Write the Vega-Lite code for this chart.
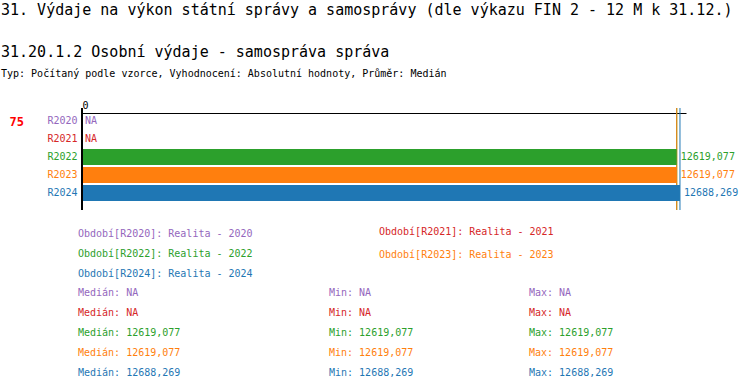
{
  "$schema": "https://vega.github.io/schema/vega-lite/v6.json",
  "background": "white",
  "padding": {"left": 1, "top": 3, "right": 0, "bottom": 0},
  "datasets": {
    "periods": [
      {"period": "R2020", "name": "Realita - 2020", "value": null, "label": "NA"},
      {"period": "R2021", "name": "Realita - 2021", "value": null, "label": "NA"},
      {"period": "R2022", "name": "Realita - 2022", "value": 12619.077, "label": "12619,077"},
      {"period": "R2023", "name": "Realita - 2023", "value": 12619.077, "label": "12619,077"},
      {"period": "R2024", "name": "Realita - 2024", "value": 12688.269, "label": "12688,269"}
    ]
  },
  "title": {
    "text": "31. Výdaje na výkon státní správy a samosprávy (dle výkazu FIN 2 - 12 M k 31.12.)",
    "anchor": "start",
    "frame": "group",
    "font": "DejaVu Sans Mono",
    "fontSize": 15,
    "fontWeight": "normal",
    "color": "black",
    "dx": -81,
    "offset": 27
  },
  "bounds": "full",
  "spacing": 1,
  "vconcat": [
    {
      "width": 604,
      "height": 102,
      "title": {
        "text": "31.20.1.2 Osobní výdaje - samospráva správa",
        "subtitle": "Typ: Počítaný podle vzorce, Vyhodnocení: Absolutní hodnoty, Průměr: Medián",
        "anchor": "start",
        "frame": "group",
        "font": "DejaVu Sans Mono",
        "fontSize": 15,
        "fontWeight": "normal",
        "color": "black",
        "subtitleFont": "DejaVu Sans Mono",
        "subtitleFontSize": 10,
        "subtitleColor": "black",
        "subtitlePadding": 9,
        "dx": -81,
        "offset": 21
      },
      "data": {"name": "periods"},
      "encoding": {
        "color": {
          "field": "period",
          "type": "nominal",
          "scale": {
            "domain": ["R2020", "R2021", "R2022", "R2023", "R2024"],
            "range": ["#9467bd", "#d62728", "#2ca02c", "#ff7f0e", "#1f77b4"]
          },
          "legend": null
        }
      },
      "layer": [
        {
          "transform": [{"filter": "datum.value != null"}],
          "mark": {"type": "rule", "strokeWidth": 1},
          "encoding": {
            "x": {
              "field": "value",
              "type": "quantitative",
              "scale": {"domain": [0, 12816], "nice": false, "zero": true},
              "axis": {
                "orient": "top",
                "values": [0],
                "title": null,
                "grid": false,
                "ticks": false,
                "domain": true,
                "domainColor": "black",
                "domainWidth": 1,
                "offset": -5,
                "labelFont": "DejaVu Sans Mono",
                "labelFontSize": 10,
                "labelColor": "black",
                "labelPadding": 3
              }
            }
          }
        },
        {
          "transform": [{"filter": "datum.value != null"}],
          "mark": {"type": "bar"},
          "encoding": {
            "x": {"field": "value", "type": "quantitative"},
            "y": {
              "field": "period",
              "type": "nominal",
              "sort": ["R2020", "R2021", "R2022", "R2023", "R2024"],
              "scale": {"paddingInner": 0.1111, "paddingOuter": 0.3889, "align": 0.357},
              "axis": {
                "title": "75",
                "titleAngle": 0,
                "titleColor": "#ff0000",
                "titleFont": "DejaVu Sans Mono",
                "titleFontSize": 12,
                "titleFontWeight": "bold",
                "titleAlign": "left",
                "titleBaseline": "middle",
                "titleX": -73,
                "titleY": 13,
                "ticks": false,
                "domain": false,
                "grid": false,
                "labelFont": "DejaVu Sans Mono",
                "labelFontSize": 10,
                "labelPadding": 5,
                "labelColor": {"expr": "datum.value == 'R2020' ? '#9467bd' : datum.value == 'R2021' ? '#d62728' : datum.value == 'R2022' ? '#2ca02c' : datum.value == 'R2023' ? '#ff7f0e' : '#1f77b4'"}
              }
            }
          }
        },
        {
          "mark": {"type": "rule", "strokeWidth": 2},
          "encoding": {
            "x": {"datum": 0, "type": "quantitative"},
            "color": {"value": "black"}
          }
        },
        {
          "transform": [{"filter": "datum.value != null"}],
          "mark": {"type": "text", "align": "left", "baseline": "middle", "dx": 4, "font": "DejaVu Sans Mono", "fontSize": 10},
          "encoding": {
            "x": {"field": "value", "type": "quantitative"},
            "y": {"field": "period", "type": "nominal", "sort": ["R2020", "R2021", "R2022", "R2023", "R2024"], "axis": {"title": "75"}},
            "text": {"field": "label"}
          }
        },
        {
          "transform": [{"filter": "datum.value == null"}],
          "mark": {"type": "text", "align": "left", "baseline": "middle", "dx": 3, "font": "DejaVu Sans Mono", "fontSize": 10},
          "encoding": {
            "x": {"datum": 0, "type": "quantitative"},
            "y": {"field": "period", "type": "nominal", "sort": ["R2020", "R2021", "R2022", "R2023", "R2024"], "axis": {"title": "75"}},
            "text": {"field": "label"}
          }
        }
      ]
    },
    {
      "bounds": "full",
      "spacing": 0,
      "hconcat": [
        {
          "width": 297,
          "height": 70,
          "data": {"name": "periods"},
          "transform": [
            {"filter": {"field": "period", "oneOf": ["R2020", "R2022", "R2024"]}},
            {"calculate": "'Období[' + datum.period + ']: ' + datum.name", "as": "txt"}
          ],
          "mark": {"type": "text", "align": "left", "baseline": "middle", "dx": -4, "font": "DejaVu Sans Mono", "fontSize": 10},
          "encoding": {
            "x": {"datum": 0, "type": "quantitative", "scale": {"domain": [0, 1]}, "axis": null},
            "y": {"field": "period", "type": "nominal", "sort": ["R2020", "R2022", "R2024"], "scale": {"type": "point", "padding": 0.75, "align": 0.72}, "axis": null},
            "text": {"field": "txt"},
            "color": {"field": "period", "type": "nominal", "legend": null}
          }
        },
        {
          "width": 200,
          "height": 70,
          "data": {"name": "periods"},
          "transform": [
            {"filter": {"field": "period", "oneOf": ["R2021", "R2023"]}},
            {"calculate": "'Období[' + datum.period + ']: ' + datum.name", "as": "txt"}
          ],
          "mark": {"type": "text", "align": "left", "baseline": "middle", "dx": -4, "font": "DejaVu Sans Mono", "fontSize": 10},
          "encoding": {
            "x": {"datum": 0, "type": "quantitative", "scale": {"domain": [0, 1]}, "axis": null},
            "y": {"field": "period", "type": "nominal", "sort": ["R2021", "R2023"], "scale": {"type": "point", "padding": 1.25, "align": 0.43}, "axis": null},
            "text": {"field": "txt"},
            "color": {"field": "period", "type": "nominal", "legend": null}
          }
        }
      ]
    },
    {
      "bounds": "full",
      "spacing": 0,
      "hconcat": [
        {
          "width": 247,
          "height": 100,
          "data": {"name": "periods"},
          "transform": [{"calculate": "'Medián: ' + datum.label", "as": "txt"}],
          "mark": {"type": "text", "align": "left", "baseline": "middle", "dx": -4, "font": "DejaVu Sans Mono", "fontSize": 10},
          "encoding": {
            "x": {"datum": 0, "type": "quantitative", "scale": {"domain": [0, 1]}, "axis": null},
            "y": {"field": "period", "type": "nominal", "sort": ["R2020", "R2021", "R2022", "R2023", "R2024"], "scale": {"type": "point", "padding": 0.5}, "axis": null},
            "text": {"field": "txt"},
            "color": {"field": "period", "type": "nominal", "legend": null}
          }
        },
        {
          "width": 196,
          "height": 100,
          "data": {"name": "periods"},
          "transform": [{"calculate": "'Min: ' + datum.label", "as": "txt"}],
          "mark": {"type": "text", "align": "left", "baseline": "middle", "dx": -4, "font": "DejaVu Sans Mono", "fontSize": 10},
          "encoding": {
            "x": {"datum": 0, "type": "quantitative", "scale": {"domain": [0, 1]}, "axis": null},
            "y": {"field": "period", "type": "nominal", "sort": ["R2020", "R2021", "R2022", "R2023", "R2024"], "scale": {"type": "point", "padding": 0.5}, "axis": null},
            "text": {"field": "txt"},
            "color": {"field": "period", "type": "nominal", "legend": null}
          }
        },
        {
          "width": 150,
          "height": 100,
          "data": {"name": "periods"},
          "transform": [{"calculate": "'Max: ' + datum.label", "as": "txt"}],
          "mark": {"type": "text", "align": "left", "baseline": "middle", "dx": -4, "font": "DejaVu Sans Mono", "fontSize": 10},
          "encoding": {
            "x": {"datum": 0, "type": "quantitative", "scale": {"domain": [0, 1]}, "axis": null},
            "y": {"field": "period", "type": "nominal", "sort": ["R2020", "R2021", "R2022", "R2023", "R2024"], "scale": {"type": "point", "padding": 0.5}, "axis": null},
            "text": {"field": "txt"},
            "color": {"field": "period", "type": "nominal", "legend": null}
          }
        }
      ]
    }
  ],
  "config": {
    "view": {"stroke": null},
    "font": "DejaVu Sans Mono"
  }
}
